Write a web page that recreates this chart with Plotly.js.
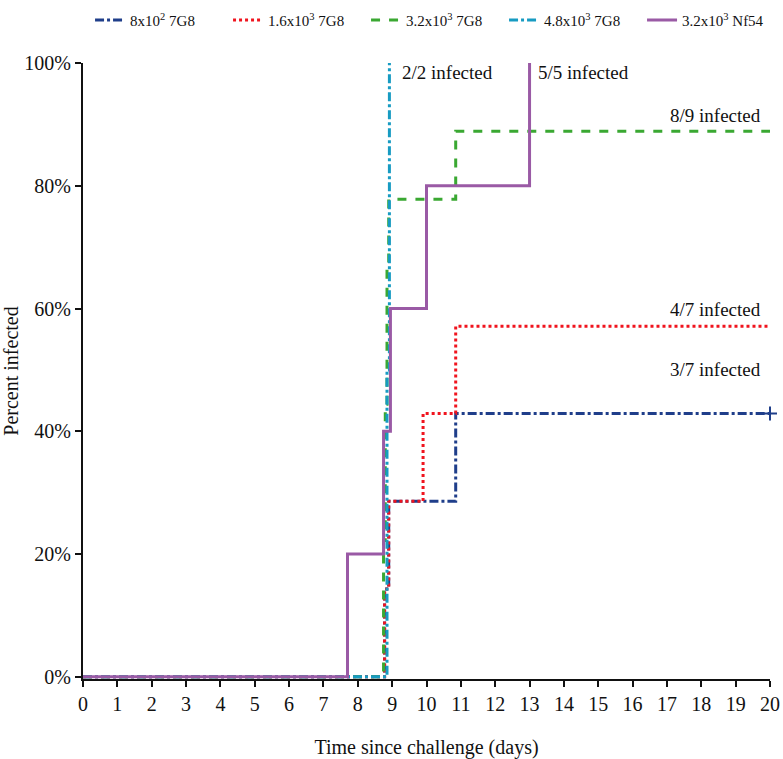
<!DOCTYPE html>
<html><head><meta charset="utf-8">
<script src="https://cdn.plot.ly/plotly-3.0.1.min.js"></script>
<style>body{margin:0;background:#fff}#c{width:783px;height:759px}</style>
</head><body><div id="c"></div>
<script>
const seriesNames = ["8x10<sup>2</sup> 7G8","1.6x10<sup>3</sup> 7G8","3.2x10<sup>3</sup> 7G8","4.8x10<sup>3</sup> 7G8","3.2x10<sup>3</sup> Nf54"];
const blueX = [0, 8.78, 8.9, 10.85, 20];
const blueY = [0, 14.3, 28.6, 42.9, 42.9];
const redX = [0, 8.78, 8.9, 9.9, 10.85, 20];
const redY = [0, 14.3, 28.6, 42.9, 57.1, 57.1];
const greenX = [0, 8.75, 8.8, 8.85, 8.9, 10.85, 20];
const greenY = [0, 22.2, 44.4, 66.7, 77.8, 88.9, 88.9];
const cyanX = [0, 8.85, 8.92];
const cyanY = [0, 50, 100];
const purpleX = [0, 7.7, 8.75, 8.95, 10, 13];
const purpleY = [0, 20, 40, 60, 80, 100];
const censorX = [20];
const censorY = [42.9];
const labelTexts = ["2/2 infected","5/5 infected","8/9 infected","4/7 infected","3/7 infected"];
const labelX = [9.23, 13.2, 19.8, 19.8, 19.8];
const labelY = [98.4, 98.4, 91.4, 59.8, 50.0];
const xTicks = [0,1,2,3,4,5,6,7,8,9,10,11,12,13,14,15,16,17,18,19,20];
const yTicks = [0,20,40,60,80,100];

const font = "Liberation Serif, Times New Roman, serif";
const colors = ["#1f3e8a","#f0141e","#3aa832","#179bc2","#9a5aa5"];
const dashes = ["dashdot","dot","dash","dashdot","solid"];
const xs=[blueX,redX,greenX,cyanX,purpleX], ys=[blueY,redY,greenY,cyanY,purpleY];
const data=[];
for(let i=0;i<5;i++){
  data.push({x:xs[i],y:ys[i],type:"scatter",mode:"lines",name:seriesNames[i],
    line:{shape:"hv",color:colors[i],width:3,dash:dashes[i]},cliponaxis:false});
}
data.push({x:censorX,y:censorY,type:"scatter",mode:"markers",showlegend:false,
  marker:{symbol:"cross-thin",size:10,line:{color:colors[0],width:2}},cliponaxis:false});

const annotations = labelTexts.map((t,i)=>({x:labelX[i],y:labelY[i],text:t,showarrow:false,
  xanchor: i<2?"left":"right", yanchor:"middle", font:{family:font,size:19,color:"#111"}}));

Plotly.newPlot("c",data,{
  width:783,height:759,
  margin:{l:83,r:13,t:63,b:80,autoexpand:false},
  paper_bgcolor:"#fff",plot_bgcolor:"#fff",
  font:{family:font,color:"#111"},
  showlegend:true,
  legend:{orientation:"h",x:0.115,xref:"container",xanchor:"left",y:0.995,yref:"container",yanchor:"top",font:{family:font,size:15},itemwidth:30,entrywidth:93,entrywidthmode:"pixels",tracegroupgap:0},
  xaxis:{range:[0,20],tickvals:xTicks,ticks:"outside",ticklen:6,tickwidth:1.5,tickcolor:"#111",
    showline:true,linecolor:"#111",linewidth:2,showgrid:false,zeroline:false,automargin:false,
    tickfont:{family:font,size:20},
    title:{text:"Time since challenge (days)",font:{family:font,size:20},standoff:30}},
  yaxis:{range:[-0.35,100],tickvals:yTicks,ticktext:yTicks.map(v=>v+"%"),ticks:"outside",ticklen:6,tickwidth:1.5,tickcolor:"#111",
    showline:true,linecolor:"#111",linewidth:2,showgrid:false,zeroline:false,automargin:false,
    tickfont:{family:font,size:20},
    title:{text:"Percent infected",font:{family:font,size:20},standoff:8}},
  annotations:annotations
},{displayModeBar:false});
</script></body></html>
